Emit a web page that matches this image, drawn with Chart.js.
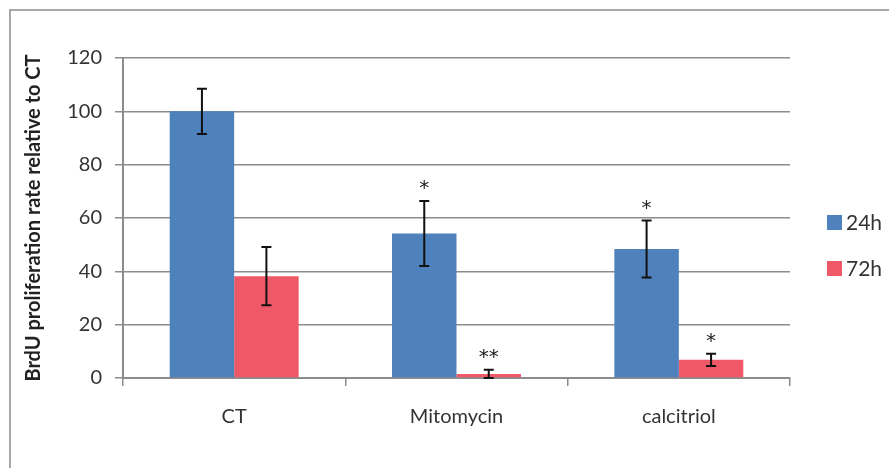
<!DOCTYPE html>
<html>
<head>
<meta charset="utf-8">
<script src="https://cdn.jsdelivr.net/npm/chart.js@4.4.1/dist/chart.umd.min.js"></script>
<style>
  html, body { margin: 0; padding: 0; background: #fff; }
  #wrap { width: 889px; height: 468px; position: relative; }
</style>
</head>
<body>
<div id="wrap"><canvas id="grafico"></canvas></div>
<script>
// datos
const categorias = ['CT', 'Mitomycin', 'calcitriol'];
const series = ['24h', '72h'];
const valores24h = [100, 54.2, 48.4];
const valores72h = [38.2, 1.5, 6.8];
const error24h = [8.5, 12.2, 10.7];
const error72h = [10.9, 1.6, 2.3];
const signif24h = ['', '*', '*'];
const signif72h = ['', '**', '*'];
const ticksY = [0, 20, 40, 60, 80, 100, 120];

const colores = ['#4F81BD', '#EF5867'];

// barras de error y asteriscos
const errorBarsPlugin = {
    id: 'errorBars',
    afterDatasetsDraw(chart) {
        const ctx = chart.ctx;
        const y = chart.scales.y;
        chart.data.datasets.forEach((ds, i) => {
            const meta = chart.getDatasetMeta(i);
            meta.data.forEach((bar, j) => {
                const v = ds.data[j];
                const e = ds.errores[j];
                const yTop = y.getPixelForValue(v + e);
                const yBot = y.getPixelForValue(Math.max(v - e, 0));
                const x = bar.x;
                ctx.save();
                ctx.strokeStyle = '#111';
                ctx.lineWidth = 2;
                ctx.beginPath();
                ctx.moveTo(x, yTop); ctx.lineTo(x, yBot);
                ctx.moveTo(x - 5, yTop); ctx.lineTo(x + 5, yTop);
                ctx.moveTo(x - 5, yBot); ctx.lineTo(x + 5, yBot);
                ctx.stroke();
                const s = ds.signif[j];
                if (s) {
                    ctx.fillStyle = '#222';
                    ctx.font = '20px "DejaVu Sans", sans-serif';
                    ctx.textAlign = 'center';
                    ctx.textBaseline = 'middle';
                    ctx.fillText(s, x, yTop - 12);
                }
                ctx.restore();
            });
        });
    }
};

// leyenda a la derecha y marco de la figura
const leyendaPlugin = {
    id: 'leyenda',
    beforeDraw(chart) {
        const ctx = chart.ctx;
        ctx.save();
        ctx.fillStyle = '#fff';
        ctx.fillRect(0, 0, chart.width, chart.height);
        ctx.strokeStyle = '#a8a8a8';
        ctx.lineWidth = 2;
        ctx.beginPath();
        ctx.moveTo(10, chart.height); ctx.lineTo(10, 10); ctx.lineTo(chart.width, 10);
        ctx.stroke();
        ctx.restore();
    },
    afterDraw(chart) {
        const ctx = chart.ctx;
        ctx.save();
        chart.data.datasets.forEach((ds, i) => {
            const yc = 222 + i * 46;
            ctx.fillStyle = ds.backgroundColor;
            ctx.fillRect(827, yc - 7, 15, 15);
            ctx.fillStyle = '#333';
            ctx.font = '21px Lato, "Noto Sans", sans-serif';
            ctx.textAlign = 'left';
            ctx.textBaseline = 'middle';
            ctx.fillText(ds.label, 846, yc + 1);
        });
        ctx.restore();
    }
};

new Chart(document.getElementById('grafico'), {
    type: 'bar',
    data: {
        labels: categorias,
        datasets: [{
            label: series[0],
            data: valores24h,
            errores: error24h,
            signif: signif24h,
            backgroundColor: colores[0]
        }, {
            label: series[1],
            data: valores72h,
            errores: error72h,
            signif: signif72h,
            backgroundColor: colores[1]
        }]
    },
    options: {
        responsive: true,
        maintainAspectRatio: false,
        animation: false,
        categoryPercentage: 0.58,
        barPercentage: 1.0,
        layout: { padding: { left: 14, top: 58, right: 99, bottom: 0 } },
        plugins: {
            legend: { display: false },
            tooltip: { enabled: false }
        },
        scales: {
            x: {
                afterFit: (s) => { s.height = 90; },
                grid: {
                    display: true,
                    drawOnChartArea: false,
                    offset: true,
                    tickLength: 8,
                    color: '#8c8c8c',
                    lineWidth: 1.5
                },
                border: { display: true, color: '#8c8c8c', width: 2 },
                ticks: {
                    color: '#333',
                    padding: 19,
                    font: { family: 'Lato, "Noto Sans", sans-serif', size: 20 }
                }
            },
            y: {
                min: 0,
                max: 120,
                afterFit: (s) => { s.width = 109; },
                afterBuildTicks: (s) => { s.ticks = ticksY.map(v => ({ value: v })); },
                grid: {
                    color: '#8c8c8c',
                    lineWidth: 1.5,
                    tickLength: 8
                },
                border: { display: true, color: '#8c8c8c', width: 2 },
                ticks: {
                    color: '#333',
                    padding: 13,
                    font: { family: 'Lato, "Noto Sans", sans-serif', size: 20 }
                },
                title: {
                    display: true,
                    text: 'BrdU proliferation rate relative to CT',
                    color: '#222',
                    padding: { top: 8, bottom: 4 },
                    font: { family: 'Lato, "Noto Sans", sans-serif', size: 20, weight: 'bold' }
                }
            }
        }
    },
    plugins: [leyendaPlugin, errorBarsPlugin]
});
</script>
</body>
</html>
